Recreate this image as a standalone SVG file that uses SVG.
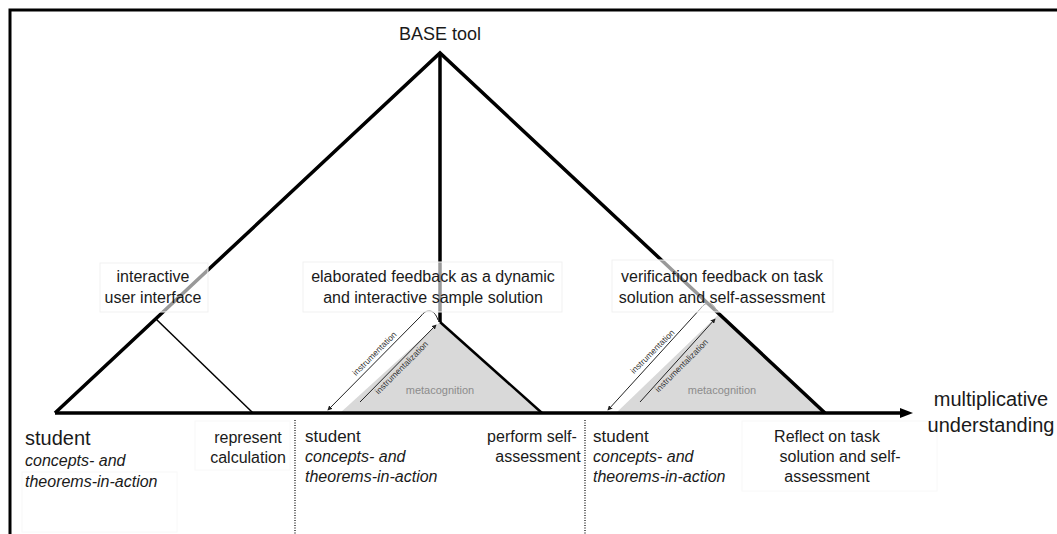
<svg xmlns="http://www.w3.org/2000/svg" width="1057" height="534" viewBox="0 0 1057 534">
<style>
text{font-family:"Liberation Sans",Arial,sans-serif;fill:#1a1a1a}
.t16{font-size:16px}
.it{font-size:16px;font-style:italic}
.c{text-anchor:middle}
.meta{font-size:11px;fill:#8c8c8c}
.small{font-size:8.5px;fill:#333}
.box{fill:#fff;fill-opacity:0.6;stroke:#f1f1f1;stroke-width:1}
.fbox{fill:none;stroke:#f8f8f8;stroke-width:1}
.thick{stroke:#000;stroke-width:3.5;fill:none;stroke-linejoin:miter}
.mid{stroke:#000;stroke-width:2.5;fill:none}
.thin{stroke:#000;stroke-width:1.5;fill:none}
.arr{stroke:#222;stroke-width:1;fill:none}
.dot{stroke:#333;stroke-width:1.5;stroke-dasharray:1 1.5;fill:none}
.shade{fill:#d9d9d9}
</style>
<defs>
<marker id="ah" viewBox="0 0 6 6" refX="5" refY="3" markerWidth="5" markerHeight="5" orient="auto-start-reverse">
<path d="M0,0 L6,3 L0,6 z" fill="#222"/>
</marker>
</defs>
<rect width="1057" height="534" fill="#fff"/>
<path d="M10,534 L10,10 L1057,10" fill="none" stroke="#000" stroke-width="3"/>
<g id="shading">
<polygon class="shade" points="440,322 340,413 542,413"/>
<polygon class="shade" points="719,314 616,413 825,413"/>
</g>
<g id="connectors">
<polyline class="thick" points="55,413 440,53 825,413"/>
<line class="thick" x1="440" y1="53" x2="440" y2="322"/>
<line class="thick" x1="55" y1="413" x2="902" y2="413"/>
<polygon points="900,408 913,413 900,418" fill="#000"/>
<line class="mid" x1="440" y1="322" x2="542" y2="413"/>
<line class="thin" x1="156" y1="319" x2="253" y2="413"/>
<path class="arr" d="M421,316 C426,309 434,308 438,320" />
<line class="arr" x1="421" y1="316" x2="328" y2="410" marker-end="url(#ah)"/>
<line class="arr" x1="360" y1="402" x2="436" y2="325" marker-end="url(#ah)"/>
<path class="arr" d="M701,308 C706,301 714,301 717,313" />
<line class="arr" x1="701" y1="308" x2="608" y2="410" marker-end="url(#ah)"/>
<line class="arr" x1="640" y1="402" x2="715" y2="319" marker-end="url(#ah)"/>
<line class="dot" x1="295" y1="420" x2="295" y2="534"/>
<line class="dot" x1="585" y1="420" x2="585" y2="534"/>
</g>
<g id="arrow-labels">
<text class="small c" transform="translate(378,357) rotate(-45)" y="-2">instrumentation</text>
<text class="small c" transform="translate(398,364) rotate(-45)" y="8">instrumentalization</text>
<text class="small c" transform="translate(656,355) rotate(-45)" y="-2">instrumentation</text>
<text class="small c" transform="translate(678,362) rotate(-45)" y="8">instrumentalization</text>
<text class="meta c" x="440" y="394">metacognition</text>
<text class="meta c" x="722" y="394">metacognition</text>
</g>
<g id="base-tool">
<text class="c" x="440" y="40" font-size="18">BASE tool</text>
</g>
<g id="interactive-ui">
<rect class="box" x="100" y="263" width="108" height="49"/>
<text class="t16 c" x="153" y="282">interactive</text>
<text class="t16 c" x="153" y="303">user interface</text>
</g>
<g id="elaborated-feedback">
<rect class="box" x="303" y="262" width="259" height="50"/>
<text class="t16 c" x="433" y="282">elaborated feedback as a dynamic</text>
<text class="t16 c" x="433" y="303">and interactive sample solution</text>
</g>
<g id="verification-feedback">
<rect class="box" x="612" y="260" width="221" height="52"/>
<text class="t16 c" x="722" y="282">verification feedback on task</text>
<text class="t16 c" x="722" y="303">solution and self-assessment</text>
</g>
<g id="student-1">
<rect class="fbox" x="22" y="472" width="155" height="60"/>
<text x="25" y="445" font-size="20">student</text>
<text class="it" x="25" y="466">concepts- and</text>
<text class="it" x="25" y="487">theorems-in-action</text>
</g>
<g id="represent-calculation">
<rect class="fbox" x="195" y="421" width="95" height="49"/>
<text class="t16 c" x="248" y="443">represent</text>
<text class="t16 c" x="248" y="463">calculation</text>
</g>
<g id="student-2">
<text x="305" y="442" font-size="17">student</text>
<text class="it" x="305" y="462">concepts- and</text>
<text class="it" x="305" y="482">theorems-in-action</text>
</g>
<g id="self-assessment">
<text class="t16 c" x="532" y="442">perform self-</text>
<text class="t16 c" x="538" y="462">assessment</text>
</g>
<g id="student-3">
<text x="593" y="442" font-size="17">student</text>
<text class="it" x="593" y="462">concepts- and</text>
<text class="it" x="593" y="482">theorems-in-action</text>
</g>
<g id="reflect">
<rect class="fbox" x="742" y="421" width="195" height="70"/>
<text class="t16 c" x="827" y="442">Reflect on task</text>
<text class="t16 c" x="840" y="462">solution and self-</text>
<text class="t16 c" x="827" y="482">assessment</text>
</g>
<g id="multiplicative-understanding">
<text class="c" x="991" y="406" font-size="20">multiplicative</text>
<text class="c" x="991" y="432" font-size="20">understanding</text>
</g>
</svg>
